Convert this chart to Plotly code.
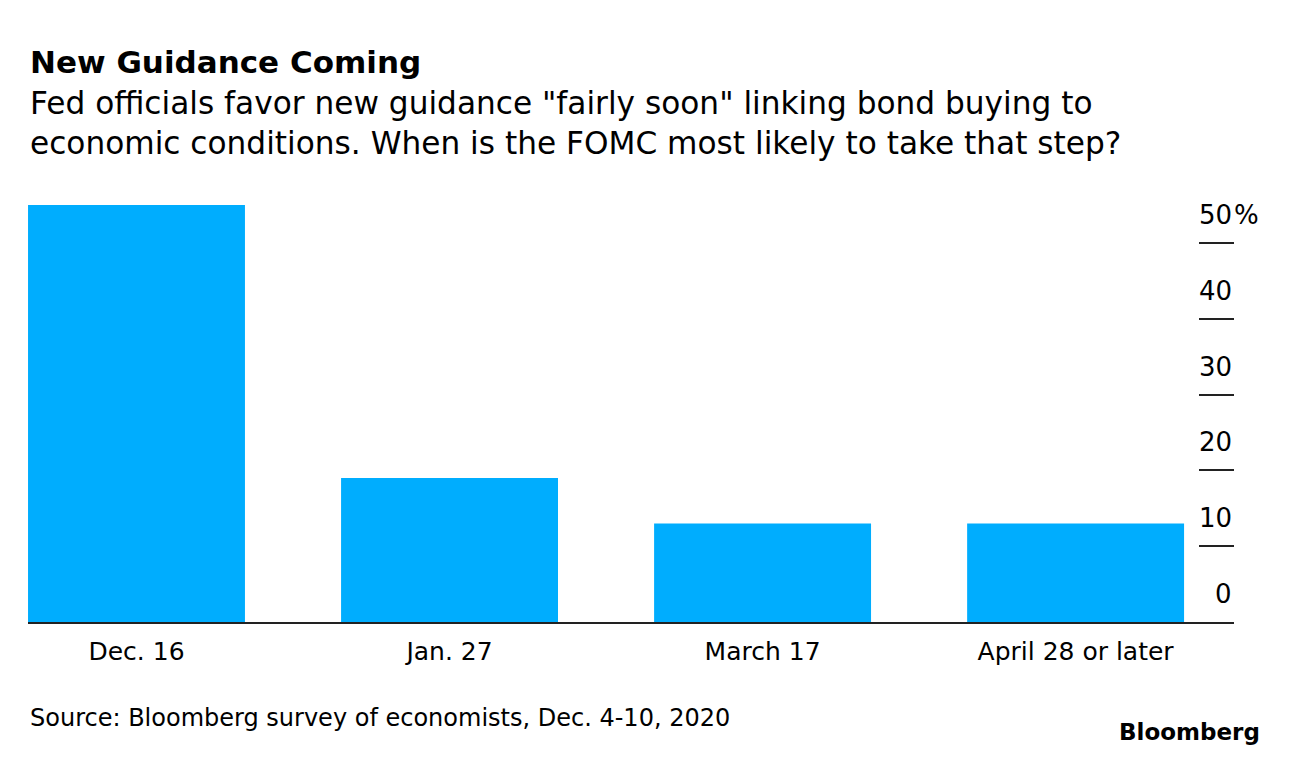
import plotly.graph_objects as go

categories = ["Dec. 16", "Jan. 27", "March 17", "April 28 or later"]
values = [55, 19, 13, 13]
tick_vals = [0, 10, 20, 30, 40, 50]
tick_text = ["0", "10", "20", "30", "40", "50"]

title = "New Guidance Coming"
subtitle_1 = 'Fed officials favor new guidance "fairly soon" linking bond buying to'
subtitle_2 = "economic conditions. When is the FOMC most likely to take that step?"
source = "Source: Bloomberg survey of economists, Dec. 4-10, 2020"

FONT = "DejaVu Sans, Arial, sans-serif"
OFF = 8  # page body margin
W, H = 1289 - OFF, 758 - OFF
ML, MR, MT, MB = 28 - OFF, 55, 205 - OFF, 136

fig = go.Figure()
fig.add_trace(go.Bar(
    x=list(range(len(categories))), y=values,
    width=0.693, marker=dict(color="#00adfe", line=dict(width=0)),
    hoverinfo="skip",
))

fig.update_layout(
    width=W, height=H,
    margin=dict(l=ML, r=MR, t=MT, b=MB, pad=0),
    paper_bgcolor="white", plot_bgcolor="white",
    showlegend=False,
    font=dict(family=FONT, color="black"),
    xaxis=dict(
        tickmode="array", tickvals=list(range(len(categories))), ticktext=categories,
        range=[-0.3466, 3.506], showgrid=False, zeroline=False,
        showline=True, linecolor="#222", linewidth=1.5,
        ticks="", tickfont=dict(size=25, family=FONT, color="black"),
        ticklabelstandoff=6,
    ),
    yaxis=dict(
        side="right", range=[0, 55], tickmode="array", tickvals=tick_vals,
        showticklabels=False, ticks="inside", ticklen=35, tickwidth=1.5,
        tickcolor="#222", showgrid=False, zeroline=False, showline=False,
    ),
)

for v, t in zip(tick_vals, tick_text):
    fig.add_annotation(x=1, xref="paper", y=v, yref="y", text=t, showarrow=False,
                       xanchor="right", yanchor="bottom", yshift=11,
                       font=dict(size=26, family=FONT, color="black"))
fig.add_annotation(x=1, xref="paper", y=tick_vals[-1], yref="y", text="%", showarrow=False,
                   xanchor="left", yanchor="bottom", yshift=11, xshift=-2,
                   font=dict(size=26, family=FONT, color="black"))

def px_x(px):
    return (px - OFF - ML) / (W - ML - MR)

def px_y(py):
    return (H - MB - (py - OFF)) / (H - MT - MB)

fig.add_annotation(x=px_x(28), y=px_y(62), xref="paper", yref="paper", text="<b>" + title + "</b>",
                   showarrow=False, xanchor="left", yanchor="middle",
                   font=dict(size=31, family=FONT, color="black"))
fig.add_annotation(x=px_x(28), y=px_y(103), xref="paper", yref="paper", text=subtitle_1,
                   showarrow=False, xanchor="left", yanchor="middle",
                   font=dict(size=31.2, family=FONT, color="black"))
fig.add_annotation(x=px_x(28), y=px_y(143), xref="paper", yref="paper", text=subtitle_2,
                   showarrow=False, xanchor="left", yanchor="middle",
                   font=dict(size=31.2, family=FONT, color="black"))
fig.add_annotation(x=px_x(28), y=px_y(718), xref="paper", yref="paper", text=source,
                   showarrow=False, xanchor="left", yanchor="middle",
                   font=dict(size=24, family=FONT, color="black"))
fig.add_annotation(x=px_x(1262), y=px_y(732), xref="paper", yref="paper", text="<b>Bloomberg</b>",
                   showarrow=False, xanchor="right", yanchor="middle",
                   font=dict(size=23, family=FONT, color="black"))

fig.write_html("out.html")
